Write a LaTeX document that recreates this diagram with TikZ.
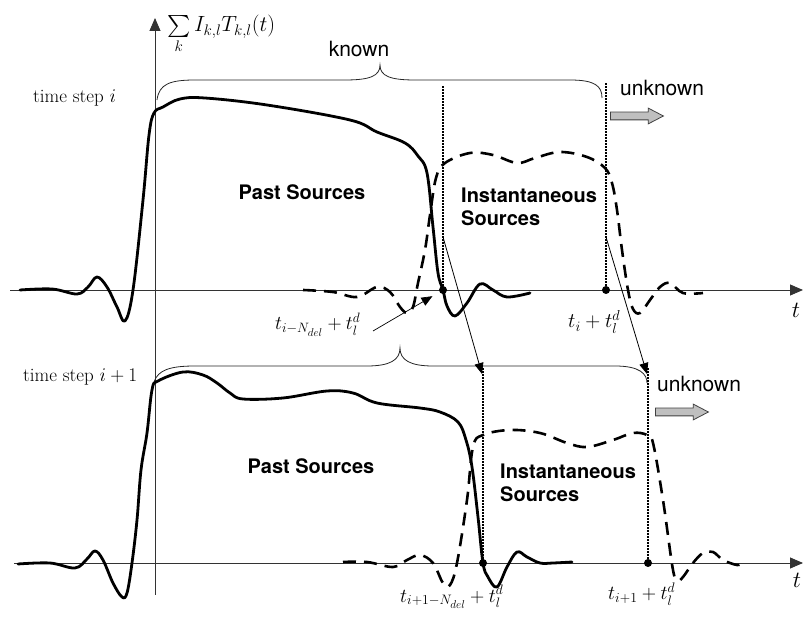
\documentclass[tikz,border=0pt]{standalone}
\usepackage{amsmath}
\usepackage{graphicx}
\usepackage{fontspec}
\newfontfamily\helvfont{TeX Gyre Heros}
\newcommand{\tmath}[1]{\scalebox{1.12}{$#1$}}
\newcommand{\fitmath}[2]{\resizebox{#1}{!}{$#2$}}
\usetikzlibrary{
    arrows.meta,
    shapes.arrows,
    positioning
}

\begin{document}
\begin{tikzpicture}[
            x=1pt, y=-1pt,
            axis_line/.style={line width=0.9pt, black!80},
            axis_arrow/.style={axis_line, -{Triangle[length=13pt, width=11pt]}},
            past_curve/.style={line width=2.8pt, line join=round, line cap=round},
            inst_curve/.style={line width=2.6pt, dash pattern=on 13pt off 8pt},
            marker_line/.style={line width=1.6pt, dash pattern=on 1.5pt off 1.5pt},
            marker_dot/.style={circle, fill=black, inner sep=0pt, minimum size=8pt},
            brace_line/.style={line width=0.8pt, black!85},
            shift_arrow/.style={line width=0.8pt, -{Triangle[length=11pt, width=9pt]}},
            label_arrow/.style={line width=0.7pt, -{Triangle[length=11pt, width=9pt]}, shorten >=8pt},
            gray_arrow/.style={single arrow, draw=black!75, fill=black!25, line width=0.8pt, minimum height=53pt, text height=7pt, text depth=0pt, inner sep=0pt, single arrow head extend=4pt, single arrow tip angle=55},
            region_text/.style={font=\helvfont\bfseries\fontsize{20}{23}\selectfont, inner sep=0pt, align=left},
            span_text/.style={font=\helvfont\fontsize{21}{25}\selectfont, inner sep=0pt},
            step_text/.style={font=\fontsize{19}{23}\selectfont, inner sep=0pt},
            time_text/.style={font=\fontsize{20.74}{25}\selectfont, inner sep=0pt}
        ]
        \useasboundingbox (0,0) rectangle (804,617);

        % axes
        \coordinate (y_base) at (155,595);
        \coordinate (y_tip) at (155,18);
        \coordinate (xa_i_start) at (10,290);
        \coordinate (xa_i_end) at (803,290);
        \coordinate (xa_n_start) at (14,563);
        \coordinate (xa_n_end) at (803,563);
        \draw[axis_arrow] (y_base) -- (y_tip);
        \draw[axis_arrow] (xa_i_start) -- (xa_i_end);
        \draw[axis_arrow] (xa_n_start) -- (xa_n_end);

        \node[time_text, anchor=base west] (sum_label) at (167,32) {\fitmath{108pt}{\sum\limits_{k} I_{k,l}T_{k,l}(t)}};
        \node[time_text] (t_label_i) at (796,310) {\tmath{t}};
        \node[time_text] (t_label_n) at (797,580) {\tmath{t}};

        % time step i
        \node[step_text, anchor=base west] (step_i) at (33,103) {time step \tmath{i}};

        \draw[brace_line] (157,100) .. controls (159,84) and (170,80) .. (195,80) -- (345,80)
          .. controls (370,80) and (380,76) .. (380,65) .. controls (380,76) and (390,80) .. (415,80)
          -- (570,80) .. controls (595,80) and (602,86) .. (602,98);
        \node[span_text, anchor=base] (known_i) at (359,57) {known};
        \node[span_text, anchor=base west] (unknown_i) at (620,96) {unknown};
        \node[gray_arrow, anchor=west] (unknown_arrow_i) at (610,116) {};

        \draw[inst_curve] plot[smooth, tension=0.6] coordinates {(303,290) (333,292) (357,297) (377,287) (390,292) (400,307) (407,313) (413,307) (418,283) (425,250) (430,215) (436,178) (445,163) (470,153) (493,155) (517,163) (535,158) (560,152) (587,157) (605,168) (612,183) (617,210) (622,250) (628,290) (633,309) (640,313) (650,300) (660,287) (670,283) (683,293) (703,293)};
        \draw[past_curve] plot[smooth, tension=0.6] coordinates {(20,290) (52,289) (77,294) (88,287) (97,277) (107,287) (117,307) (125,321) (133,290) (143,200) (149,135) (154,113) (163,107) (180,99) (205,98) (267,105) (350,120) (377,132) (405,143) (418,156) (427,173) (433,227) (438,273) (443,290) (447,306) (455,316) (467,303) (480,284) (493,290) (507,297) (530,293)};

        \node[region_text] (past_i) at (302,192) {Past Sources};
        \node[region_text, anchor=north west] (inst_i) at (461,188) {Instantaneous\\Sources};

        \node[marker_dot] (cut_i) at (443,290) {};
        \node[marker_dot] (end_i) at (606,290) {};
        \coordinate (cut_i_top) at (443,85);
        \coordinate (end_i_top) at (606,82);
        \draw[marker_line] (cut_i) -- (cut_i_top);
        \draw[marker_line] (end_i) -- (end_i_top);

        \node[time_text, anchor=base west] (cut_i_label) at (275,330) {\fitmath{85pt}{t_{i-N_{del}}+t_l^d}};
        \node[time_text, anchor=base west] (end_i_label) at (568,328) {\fitmath{52pt}{t_i+t_l^d}};
        \coordinate (cut_i_tail) at (373,331);
        \draw[label_arrow] (cut_i_tail) -- (cut_i);

        % time step i+1
        \node[step_text, anchor=base west] (step_n) at (23,382) {time step \tmath{i+1}};

        \draw[brace_line] (154,382) .. controls (158,370) and (170,366) .. (195,366) -- (367,366)
          .. controls (390,366) and (400,360) .. (400,348) .. controls (400,360) and (410,366) .. (433,366)
          -- (615,366) .. controls (640,366) and (647,374) .. (647,383);
        \node[span_text, anchor=base west] (unknown_n) at (657,392) {unknown};
        \node[gray_arrow, anchor=west] (unknown_arrow_n) at (655,412) {};

        \draw[inst_curve] plot[smooth, tension=0.6] coordinates {(343,562) (367,562) (393,567) (407,560) (420,555) (433,563) (443,583) (450,585) (457,563) (467,500) (473,447) (483,435) (510,430) (540,433) (567,443) (587,447) (613,440) (633,433) (647,435) (653,443) (663,500) (673,570) (678,580) (683,577) (693,563) (703,553) (713,552) (723,560) (737,565) (743,563)};
        \draw[past_curve] plot[smooth, tension=0.6] coordinates {(18,564) (50,563) (75,568) (87,559) (95,551) (103,560) (113,583) (122,597) (127,593) (132,563) (137,520) (141,470) (147,433) (152,390) (158,381) (183,372) (203,375) (217,383) (230,393) (243,399) (283,398) (327,391) (353,393) (377,403) (420,408) (440,412) (458,422) (466,440) (472,467) (478,517) (483,563) (488,577) (497,587) (507,567) (517,552) (527,557) (540,563) (553,563) (572,562)};

        \node[region_text] (past_n) at (311,466) {Past Sources};
        \node[region_text, anchor=north west] (inst_n) at (500,464) {Instantaneous\\Sources};

        \node[marker_dot] (cut_n) at (483,563) {};
        \node[marker_dot] (end_n) at (648,563) {};
        \coordinate (cut_n_top) at (483,367);
        \coordinate (end_n_top) at (648,367);
        \draw[marker_line] (cut_n) -- (cut_n_top);
        \draw[marker_line] (end_n) -- (end_n_top);

        \node[time_text, anchor=base west] (cut_n_label) at (400,602) {\fitmath{103pt}{t_{i+1-N_{del}}+t_l^d}};
        \node[time_text, anchor=base west] (end_n_label) at (608,600) {\fitmath{67pt}{t_{i+1}+t_l^d}};

        % shift from step i to step i+1
        \coordinate (cut_i_mid) at (443,237);
        \coordinate (end_i_mid) at (606,237);
        \coordinate (cut_n_hit) at (482,374);
        \coordinate (end_n_hit) at (647,374);
        \draw[shift_arrow] (cut_i_mid) -- (cut_n_hit);
        \draw[shift_arrow] (end_i_mid) -- (end_n_hit);

        \end{tikzpicture}
\end{document}
